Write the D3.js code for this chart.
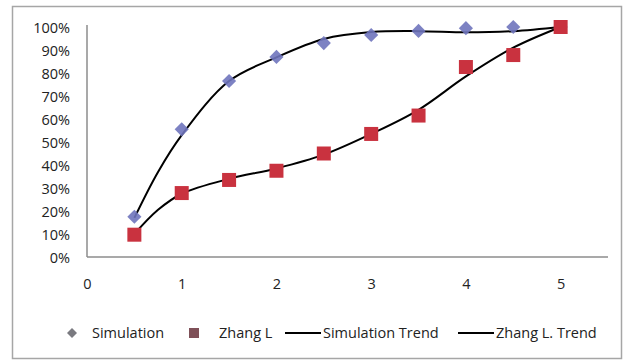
<!DOCTYPE html>
<html><head><meta charset="utf-8">
<script src="https://cdn.jsdelivr.net/npm/d3@7"></script>
<style>
body{margin:0;background:#fff;}
svg{display:block;}
text{font-family:"Open Sans",sans-serif;fill:#222;}
</style></head>
<body><svg id="c" width="628" height="361"></svg>
<script>
const xValues = [0.5,1,1.5,2,2.5,3,3.5,4,4.5,5];
const simulation = [0.175,0.555,0.765,0.87,0.93,0.965,0.983,0.995,1.0,1.0];
const zhangL = [0.097,0.278,0.335,0.375,0.45,0.535,0.615,0.826,0.878,1.0];
// trendline values
const trendX = [0.5,0.75,1,1.5,2,2.5,3,3.5,4,4.5,5];
const simulationTrend = [0.17,0.37,0.53,0.765,0.868,0.948,0.978,0.982,0.977,0.982,1.0];
const zhangLTrend = [0.10,0.205,0.275,0.34,0.385,0.445,0.535,0.64,0.785,0.91,1.0];
const xTicks = [0,1,2,3,4,5];
const yTicks = [0,0.1,0.2,0.3,0.4,0.5,0.6,0.7,0.8,0.9,1.0];
const legendLabels = ["Simulation","Zhang L","Simulation Trend","Zhang L. Trend"];

const svg=d3.select("#c");
svg.append("rect").attr("x",12.5).attr("y",6.5).attr("width",609).attr("height",352)
  .attr("fill","#fff").attr("stroke","#a6a6a6").attr("stroke-width",1.5);

const x=d3.scaleLinear().domain([0,5.5]).range([87,608]);
const y=d3.scaleLinear().domain([0,1]).range([257,27]);

// axes
svg.append("line").attr("x1",x(0)).attr("x2",x(0)).attr("y1",25).attr("y2",y(0)).attr("stroke","#8c8c8c").attr("stroke-width",1.5);
svg.append("line").attr("x1",x(0)).attr("x2",x(5.5)).attr("y1",y(0)).attr("y2",y(0)).attr("stroke","#8c8c8c").attr("stroke-width",1.5);

const yAxis=d3.axisLeft(y).tickValues(yTicks).tickFormat(d3.format(".0%")).tickSize(0).tickPadding(17);
const gy=svg.append("g").attr("transform",`translate(${x(0)},0)`).call(yAxis);
gy.select(".domain").remove();
gy.selectAll("text").style("font-size","14.5px").attr("fill","#222").attr("dy","0.35em");

const xAxis=d3.axisBottom(x).tickValues(xTicks).tickFormat(d3.format("d")).tickSize(0).tickPadding(22);
const gx=svg.append("g").attr("transform",`translate(0,${y(0)})`).call(xAxis);
gx.select(".domain").remove();
gx.selectAll("text").style("font-size","14.5px").attr("fill","#222");

// trendlines
const line=d3.line().x(d=>x(d[0])).y(d=>y(d[1])).curve(d3.curveCatmullRom.alpha(0.5));
[simulationTrend,zhangLTrend].forEach(t=>{
  svg.append("path").datum(trendX.map((v,i)=>[v,t[i]])).attr("d",line)
    .attr("fill","none").attr("stroke","#000").attr("stroke-width",2);
});

// markers
const blue="#6f74bd", red="#c9323f";
svg.append("g").selectAll("path").data(xValues.map((v,i)=>[v,simulation[i]])).join("path")
  .attr("d",d3.symbol(d3.symbolSquare,100)())
  .attr("transform",d=>`translate(${x(d[0])},${y(d[1])}) rotate(45)`)
  .attr("fill",blue).attr("opacity",0.9);
svg.append("g").selectAll("rect").data(xValues.map((v,i)=>[v,zhangL[i]])).join("rect")
  .attr("x",d=>x(d[0])-7).attr("y",d=>y(d[1])-7).attr("width",14).attr("height",14)
  .attr("fill",red);

// legend
const ly=333;
const lg=svg.append("g");
lg.append("path").attr("d",d3.symbol(d3.symbolSquare,50)()).attr("transform",`translate(72,${ly}) rotate(45)`).attr("fill","#7a7a80");
lg.append("text").attr("x",92).attr("y",ly).attr("dy","0.35em").style("font-size","14.5px").text(legendLabels[0]);
lg.append("rect").attr("x",189).attr("y",ly-5).attr("width",10).attr("height",10).attr("fill","#7f5058");
lg.append("text").attr("x",219).attr("y",ly).attr("dy","0.35em").style("font-size","14.5px").text(legendLabels[1]);
lg.append("line").attr("x1",285).attr("x2",321).attr("y1",ly).attr("y2",ly).attr("stroke","#000").attr("stroke-width",2);
lg.append("text").attr("x",323).attr("y",ly).attr("dy","0.35em").style("font-size","14.5px").text(legendLabels[2]);
lg.append("line").attr("x1",458).attr("x2",494).attr("y1",ly).attr("y2",ly).attr("stroke","#000").attr("stroke-width",2);
lg.append("text").attr("x",496).attr("y",ly).attr("dy","0.35em").style("font-size","14.5px").text(legendLabels[3]);
</script></body></html>
